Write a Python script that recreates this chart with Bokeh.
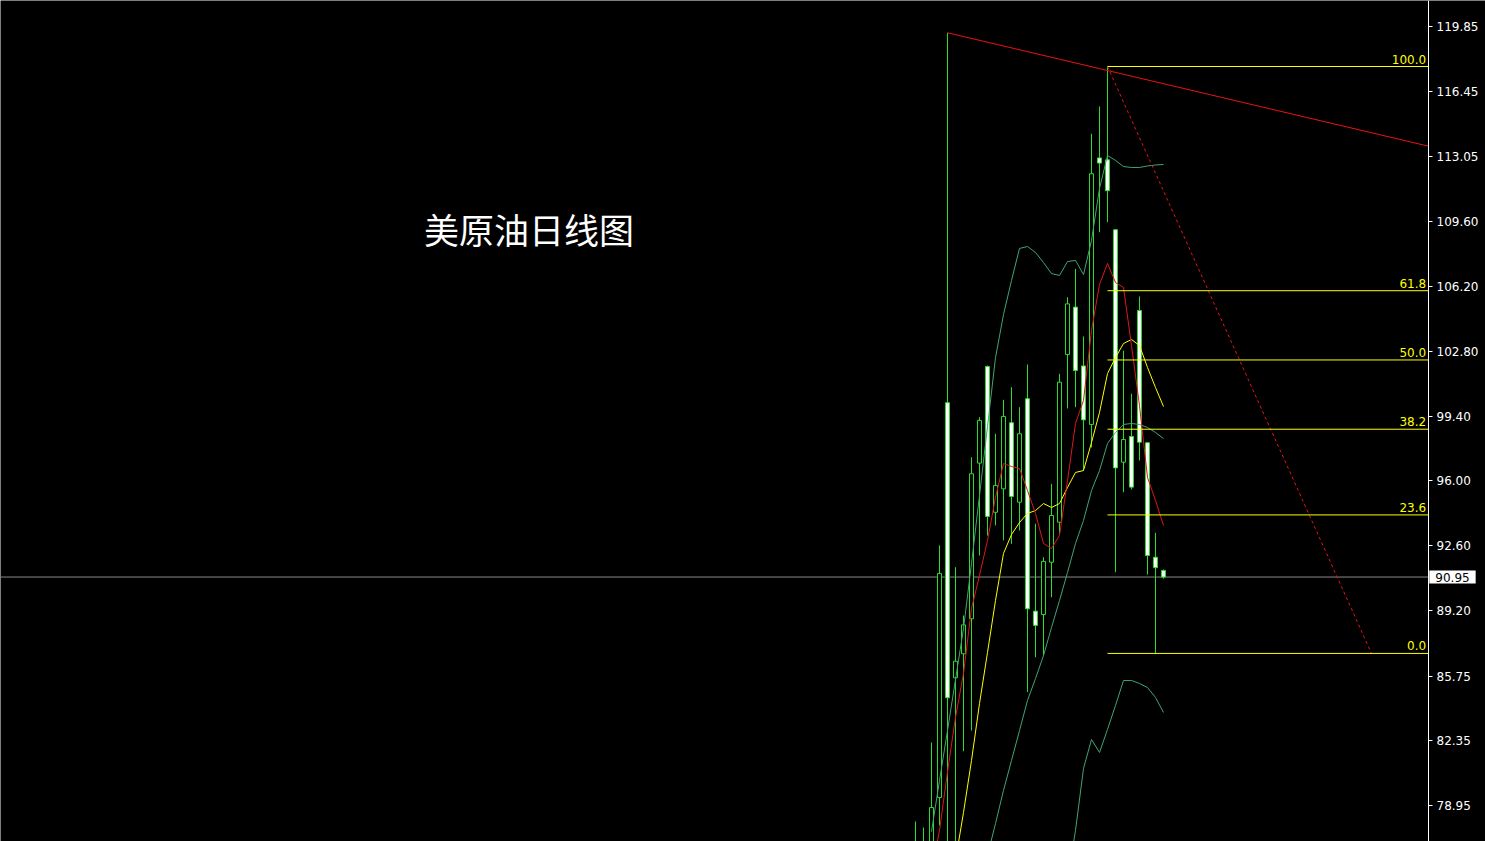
from bokeh.plotting import figure
from bokeh.models import Range1d, FixedTicker, PrintfTickFormatter, Label, ColumnDataSource, LinearAxis
from bokeh.embed import file_html
from bokeh.resources import INLINE

nan = float("nan")

# ---- daily candles (bar index 0..31), prices ----
opens = [76.3, 76.4, 76.6, 79.38, 100.10, 85.66, 86.92, 88.76, 96.93, 102.00,
         94.35, 95.58, 99.05, 94.88, 100.31, 89.16, 88.98, 91.73, 93.83, 102.63,
         105.12, 102.03, 98.96, 112.95, 112.85, 109.18, 96.98, 98.33, 104.94, 98.00,
         91.99, 91.29]
highs = [78.12, 77.80, 82.26, 92.61, 119.52, 91.47, 88.93, 97.24, 99.34, 102.05,
         98.47, 100.25, 100.92, 99.87, 102.11, 93.75, 91.99, 95.84, 101.62, 105.64,
         107.13, 103.58, 114.22, 115.65, 117.75, 109.20, 102.84, 100.57, 105.68, 98.00,
         93.27, 91.35]
lows = [75.6, 75.9, 76.2, 77.9, 76.5, 76.8, 81.81, 82.89, 92.08, 93.13,
        93.66, 92.87, 92.69, 93.39, 84.91, 86.74, 86.83, 89.89, 93.24, 99.80,
        99.87, 96.54, 97.75, 109.05, 109.58, 91.20, 95.40, 95.55, 97.07, 91.08,
        86.94, 90.86]
closes = [76.9, 76.8, 78.85, 91.14, 84.61, 86.53, 88.44, 96.37, 99.17, 94.13,
          95.76, 99.38, 95.18, 98.47, 89.28, 88.41, 91.77, 94.18, 101.18, 105.29,
          101.79, 99.20, 112.12, 112.68, 111.23, 96.68, 98.17, 95.67, 98.03, 92.08,
          91.44, 90.95]

# ---- indicator lines ----
ma_fast = [nan, nan, 75.5, 77.65, 80.72, 83.58, 85.89, 89.30, 91.03, 92.87,
           95.13, 96.91, 96.75, 96.65, 95.49, 94.29, 92.71, 92.45, 93.13, 96.02,
           99.01, 100.22, 103.89, 106.31, 107.41, 106.41, 106.15, 103.10, 99.95, 96.18,
           94.97, 93.66]
ma_slow = [nan, nan, nan, nan, nan, 76.07, 78.59, 81.32, 84.31, 86.99,
           89.72, 92.19, 93.18, 93.81, 94.29, 94.44, 94.81, 94.60, 94.81, 95.65,
           96.44, 96.54, 98.01, 99.59, 101.63, 102.47, 103.21, 103.42, 103.10, 101.95,
           100.90, 99.90]
band_upper = [nan, nan, 77.59, 80.27, 82.89, 85.57, 88.25, 91.66, 95.23, 98.85,
              102.47, 104.73, 106.52, 108.20, 108.30, 107.99, 107.46, 106.88, 106.78, 107.51,
              107.57, 106.83, 108.62, 111.35, 113.08, 112.82, 112.50, 112.45, 112.45, 112.53,
              112.58, 112.61]
band_mid = [nan, nan, nan, nan, nan, nan, nan, nan, nan, 76.33,
            78.01, 79.75, 81.32, 82.89, 84.47, 85.62, 86.83, 88.30, 89.72, 91.19,
            92.71, 93.92, 95.49, 96.54, 97.96, 98.54, 98.96, 99.01, 98.96, 98.80,
            98.54, 98.22]
band_lower = [nan] * 19 + [75.02, 77.65, 80.90, 82.42, 81.74, 82.95, 84.21, 85.52,
                           85.52, 85.36, 85.15, 84.63, 83.84]

# ---- drawn objects ----
trend_x = [4, 24]
trend_y = [119.52, 117.54]
fib_x = [24, 57]              # from the high bar to the projected low point
fib_prices = [117.75, 86.94]  # 100 level, 0 level
fib_ratios = [100.0, 61.8, 50.0, 38.2, 23.6, 0.0]
last_price = 90.95

y_ticks = [119.85, 116.45, 113.05, 109.60, 106.20, 102.80, 99.40, 96.00,
           92.60, 89.20, 85.75, 82.35, 78.95]

title_text = "美原油日线图"

GREEN = "#2CDC2C"
BAND = "#42A474"
RED = "#DC1818"
TREND = "#E81414"
YELLOW = "#FFFF00"

# layout (bar units: 8 px per bar)
X_START, X_END = -114.375, 71.25
AXIS_X = 64.125          # price scale position (right edge of the chart area)
Y_LO, Y_HI = 77.067, 121.215

p = figure(frame_width=1485, frame_height=841, output_backend="svg", toolbar_location=None,
           x_range=Range1d(X_START, X_END), y_range=Range1d(Y_LO, Y_HI),
           x_axis_location=None, y_axis_location=None,
           min_border_left=0, min_border_top=0, min_border_bottom=0, min_border_right=0,
           background_fill_color="black", border_fill_color="black")
p.outline_line_color = None
p.grid.visible = False

ax = LinearAxis(fixed_location=AXIS_X)
ax.ticker = FixedTicker(ticks=y_ticks)
ax.formatter = PrintfTickFormatter(format="%.2f")
ax.axis_line_color = "white"
ax.major_tick_line_color = "white"
ax.major_tick_out = 4
ax.major_tick_in = 0
ax.minor_tick_line_color = None
ax.major_label_text_color = "white"
ax.major_label_text_font = "DejaVu Sans"
ax.major_label_text_font_size = "12px"
ax.major_label_standoff = 4
p.add_layout(ax, "right")

bars = list(range(len(opens)))
src = ColumnDataSource(dict(
    x=bars, o=opens, h=highs, l=lows, c=closes,
    top=[max(o, c) for o, c in zip(opens, closes)],
    bottom=[min(o, c) for o, c in zip(opens, closes)],
    fill=["white" if c < o else "black" for o, c in zip(opens, closes)],
))

# current price line
p.line([X_START, AXIS_X], [last_price, last_price], line_color="#8A8A8A", line_width=1)

# candles
p.segment(x0="x", y0="l", x1="x", y1="h", source=src, line_color=GREEN, line_width=1)
p.vbar(x="x", width=0.5, top="top", bottom="bottom", source=src,
       fill_color="fill", line_color=GREEN, line_width=1)

# indicators
for series, col in [(band_upper, BAND), (band_mid, BAND), (band_lower, BAND),
                    (ma_slow, YELLOW), (ma_fast, RED)]:
    p.line(bars, series, line_color=col, line_width=1)

# trend line (ray to the price scale)
slope = (trend_y[1] - trend_y[0]) / (trend_x[1] - trend_x[0])
p.line([trend_x[0], AXIS_X], [trend_y[0], trend_y[0] + slope * (AXIS_X - trend_x[0])],
       line_color=TREND, line_width=1)

# fibonacci retracement
hi, lo = fib_prices
p.line(fib_x, [hi, lo], line_color=TREND, line_width=1, line_dash="3 3")
levels = [lo + r / 100.0 * (hi - lo) for r in fib_ratios]
p.segment(x0=[fib_x[0]] * len(levels), y0=levels, x1=[AXIS_X] * len(levels), y1=levels,
          line_color=YELLOW, line_width=1)
for r, lv in zip(fib_ratios, levels):
    p.add_layout(Label(x=AXIS_X - 0.3, y=lv, y_offset=3, text="%.1f" % r, text_align="right",
                       text_baseline="bottom", text_color=YELLOW,
                       text_font="DejaVu Sans", text_font_size="12px"))

# current price tag on the price scale
tag = Label(x=AXIS_X + 0.1, y=last_price, text="%.2f" % last_price, text_align="left",
            text_baseline="middle", text_color="black", text_font="DejaVu Sans",
            text_font_size="12px", background_fill_color="white")
try:
    tag.padding = dict(left=6, right=6, top=2, bottom=2)
except Exception:
    tag.padding = 2
p.add_layout(tag)

# title
p.add_layout(Label(x=-61.45, y=109.27, text=title_text, text_align="left", text_baseline="middle",
                   text_color="white", text_font="Noto Sans CJK SC", text_font_size="35px"))

open("out.html", "w").write(file_html(p, INLINE))
